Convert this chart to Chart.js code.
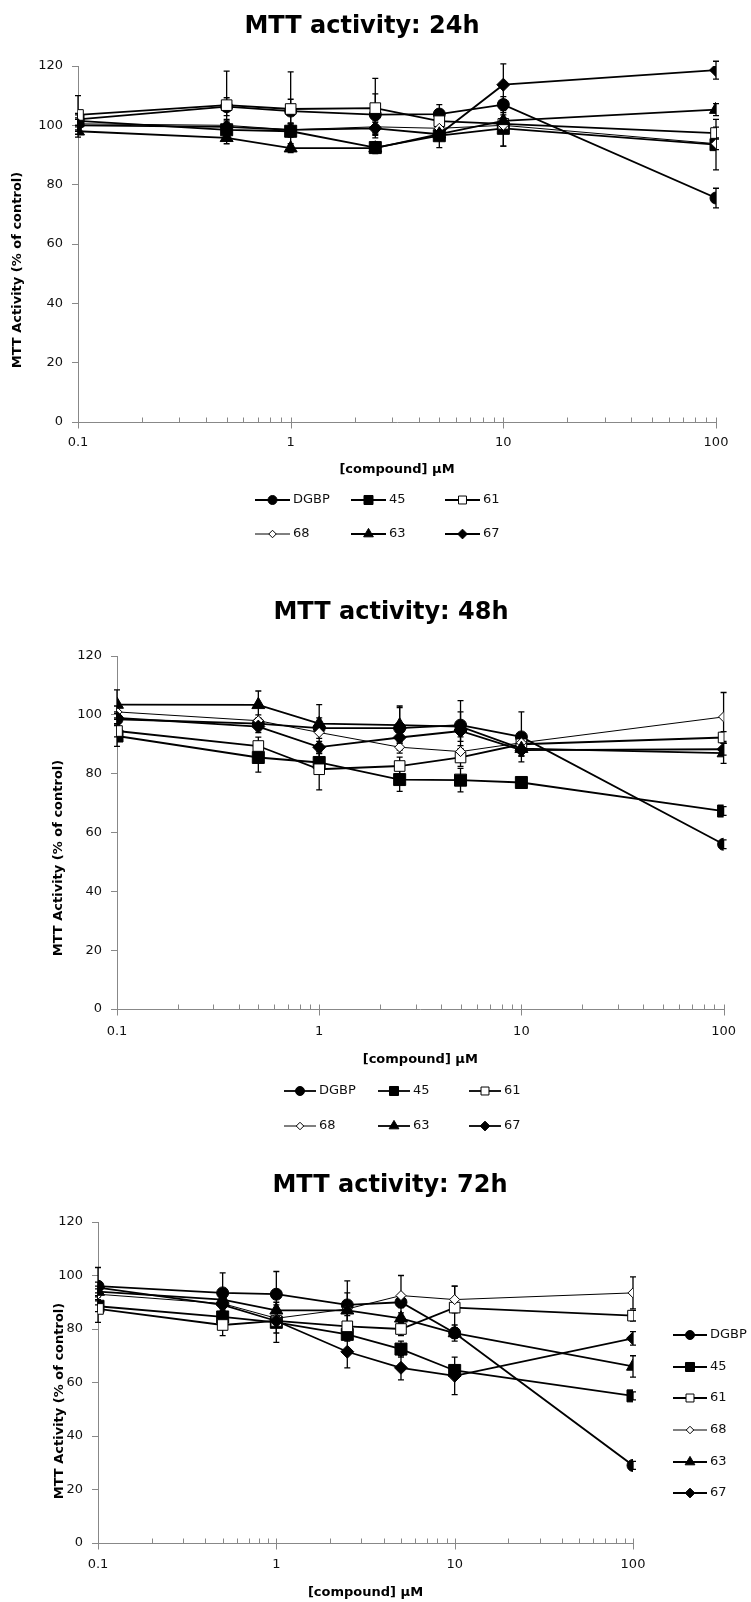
<!DOCTYPE html>
<html>
<head>
<meta charset="utf-8">
<script src="https://cdn.jsdelivr.net/npm/chart.js@4.4.1/dist/chart.umd.min.js"></script>
<style>
  body { margin: 0; background: #fff; }
  .panel { position: absolute; left: 0; width: 751px; }
</style>
</head>
<body>
<div class="panel" style="top:0px"><canvas id="chart24" width="751" height="560"></canvas></div>
<div class="panel" style="top:560px"><canvas id="chart48" width="751" height="590"></canvas></div>
<div class="panel" style="top:1150px"><canvas id="chart72" width="751" height="452"></canvas></div>
<script>
// concentrations (uM) and series names
const conc = [0.1, 0.5, 1, 2.5, 5, 10, 100]
const seriesNames = ['DGBP', '45', '61', '68', '63', '67']

// x axis ticks (log), only the decades get a label
const xTickValues = [0.1, 0.2, 0.3, 0.4, 0.5, 0.6, 0.7, 0.8, 0.9, 1, 2, 3, 4, 5, 6, 7, 8, 9, 10, 20, 30, 40, 50, 60, 70, 80, 90, 100]
const xTickLabels = ['0.1', '1', '10', '100']

// 24h
const dgbp24 = [102, 106.3, 104.8, 103.6, 103.8, 107, 75.5]
const dgbp24Err = [2, 3, 4, 7, 3.2, 2.7, 3.3]
const c45_24 = [101.5, 98.5, 98, 92.5, 96.5, 99, 93.5]
const c45_24Err = [2, 2.5, 2, 2, 4, 6, 8.5]
const c61_24 = [103.5, 106.8, 105.5, 105.8, 101.4, 100.5, 97.4]
const c61_24Err = [6.5, 11.5, 12.5, 10, 2.5, 2, 2]
const c68_24 = [100.5, 100, 98.5, 99.5, 99, 100, 93.8]
const c68_24Err = [2, 2, 2, 2, 2, 7, 2]
const c63_24 = [98, 95.8, 92.3, 92.3, 97, 101.5, 105.3]
const c63_24Err = [2, 2, 1.5, 1.5, 2, 2, 2]
const c67_24 = [100, 99.5, 98.5, 99, 97, 113.7, 118.6]
const c67_24Err = [2, 2, 2, 2, 2, 7, 3]

// 48h
const dgbp48 = [98.5, 97, 95.5, 95.5, 96.5, 92.5, 56]
const dgbp48Err = [2, 2, 8, 7.5, 8.3, 8.5, 1.5]
const c45_48 = [92.8, 85.5, 83.8, 78, 77.8, 77, 67.3]
const c45_48Err = [3.5, 5, 3, 4, 4, 1.5, 1.5]
const c61_48 = [94.5, 89.4, 81.5, 82.6, 85.5, 90, 92.3]
const c61_48Err = [2, 3, 7, 3, 3, 2, 2]
const c68_48 = [101, 98, 94, 89, 87.5, 90.5, 99.3]
const c68_48Err = [2, 2, 2, 2, 2, 2, 8.3]
const c63_48 = [103.5, 103.4, 97, 96.5, 96, 88.5, 87]
const c63_48Err = [5, 4.7, 2, 6, 5, 2.5, 3.5]
const c67_48 = [99, 96, 89, 92.3, 94.5, 88, 88.3]
const c67_48Err = [2, 2, 2, 2, 2, 2, 2]

// 72h
const dgbp72 = [96, 93.5, 93, 89, 90, 78.5, 29]
const dgbp72Err = [7, 7.5, 8.5, 9, 2, 3, 1.5]
const c45_72 = [88.5, 84.5, 82.5, 78, 72.5, 64.5, 55]
const c45_72Err = [2, 2, 7.5, 2, 3, 2, 1.5]
const c61_72 = [87.5, 81.5, 83, 81, 80, 88, 85]
const c61_72Err = [5, 4, 4.5, 5.5, 2.5, 8, 2]
const c68_72 = [93, 89.5, 84, 87.5, 92.5, 91, 93.5]
const c68_72Err = [2, 2, 2, 6, 7.5, 5, 6]
const c63_72 = [94, 91, 87, 87, 84, 78.5, 66]
const c63_72Err = [2, 2, 2, 2, 2, 2, 4]
const c67_72 = [95.5, 89, 83, 71.5, 65.5, 62.5, 76.5]
const c67_72Err = [2, 2, 2, 6, 4.5, 7, 2.5]

const FONT = "'DejaVu Sans', sans-serif"
const axisColor = '#888888'
const textColor = '#111111'

// marker look of each series (same order as seriesNames)
const markerStyles = [
  { pointStyle: 'circle', radius: 6, fill: '#000', line: 1.8 },
  { pointStyle: 'rect', radius: 8.5, fill: '#000', line: 1.8 },
  { pointStyle: 'rect', radius: 7.5, fill: '#fff', line: 1.8 },
  { pointStyle: 'rectRot', radius: 5, fill: '#fff', line: 1 },
  { pointStyle: 'triangle', radius: 7.5, fill: '#000', line: 1.8 },
  { pointStyle: 'rectRot', radius: 6.5, fill: '#000', line: 1.8 }
]

// titles, axis ticks, error bars and the legend
const decorPlugin = {
  id: 'decor',
  beforeDatasetsDraw(chart, args, opts) {
    const ctx = chart.ctx
    const x = chart.scales.x, y = chart.scales.y
    const y0 = Math.round(chart.chartArea.bottom) + 0.5
    ctx.save()
    ctx.strokeStyle = axisColor
    ctx.lineWidth = 1
    xTickValues.forEach(v => {
      const px = Math.round(x.getPixelForValue(v)) + 0.5
      const major = xTickLabels.includes(String(v))
      ctx.beginPath()
      ctx.moveTo(px, y0 - 5)
      ctx.lineTo(px, major ? y0 + 6 : y0)
      ctx.stroke()
    })
    // error bars sit under the markers
    ctx.strokeStyle = '#000'
    ctx.lineWidth = 1.3
    chart.data.datasets.forEach(ds => {
      ds.err.forEach((e, j) => {
        const v = ds.data[j].y
        const px = x.getPixelForValue(conc[j])
        const top = y.getPixelForValue(v + e), bot = y.getPixelForValue(v - e)
        ctx.beginPath()
        ctx.moveTo(px, top); ctx.lineTo(px, bot)
        ctx.moveTo(px - 3, top); ctx.lineTo(px + 3, top)
        ctx.moveTo(px - 3, bot); ctx.lineTo(px + 3, bot)
        ctx.stroke()
      })
    })
    ctx.restore()
  },
  afterDraw(chart, args, opts) {
    const ctx = chart.ctx
    const area = chart.chartArea
    ctx.save()
    ctx.fillStyle = '#000'
    ctx.textAlign = 'center'
    ctx.textBaseline = 'middle'
    ctx.font = 'bold 24px ' + FONT
    ctx.fillText(opts.title, opts.titleX, opts.titleY)
    ctx.font = 'bold 13px ' + FONT
    ctx.fillText('[compound] µM', (area.left + area.right) / 2, opts.xTitleY)
    ctx.save()
    ctx.translate(opts.yTitleX, opts.yTitleY)
    ctx.rotate(-Math.PI / 2)
    ctx.fillText('MTT Activity (% of control)', 0, 0)
    ctx.restore()

    // legend: line with the marker in the middle, then the name
    const leg = opts.legend
    chart.data.datasets.forEach((ds, i) => {
      const lx = leg.x[i], ly = leg.y[i]
      ctx.strokeStyle = '#000'
      ctx.lineWidth = ds.borderWidth
      ctx.beginPath()
      ctx.moveTo(lx, ly); ctx.lineTo(lx + leg.len, ly)
      ctx.stroke()
      ctx.fillStyle = ds.pointBackgroundColor
      ctx.lineWidth = 1
      Chart.helpers.drawPoint(ctx, { pointStyle: ds.pointStyle, radius: ds.pointRadius * 0.75, rotation: 0, borderWidth: 1 }, lx + leg.len / 2, ly)
      ctx.fillStyle = textColor
      ctx.font = '13px ' + FONT
      ctx.textAlign = 'left'
      ctx.fillText(ds.label, lx + leg.len + 3, ly)
    })
    ctx.restore()
  }
}

function makeDatasets(values, errors) {
  return seriesNames.map((name, i) => {
    const st = markerStyles[i]
    return {
      label: name,
      data: conc.map((c, j) => ({ x: c, y: values[i][j] })),
      err: errors[i],
      borderColor: '#000',
      borderWidth: st.line,
      backgroundColor: st.fill,
      pointStyle: st.pointStyle,
      pointRadius: st.radius,
      pointBackgroundColor: st.fill,
      pointBorderColor: '#000',
      pointBorderWidth: 1,
      tension: 0,
      order: 5 - i
    }
  })
}

function makeChart(id, values, errors, box, decor) {
  const canvas = document.getElementById(id)
  const H = canvas.height
  return new Chart(canvas, {
    type: 'line',
    data: { datasets: makeDatasets(values, errors) },
    options: {
      responsive: false,
      animation: false,
      events: [],
      layout: { padding: { left: 0, top: box.top, right: canvas.width - box.right, bottom: 0 } },
      scales: {
        x: {
          type: 'logarithmic',
          min: 0.1,
          max: 100,
          afterBuildTicks: s => { s.ticks = xTickValues.map(v => ({ value: v })) },
          afterFit: s => { s.height = H - box.bottom },
          ticks: {
            autoSkip: false,
            maxRotation: 0,
            padding: box.xPad,
            color: textColor,
            font: { family: FONT, size: 13 },
            callback: v => xTickLabels.includes(String(v)) ? String(v) : ''
          },
          grid: { display: true, drawOnChartArea: false, drawTicks: false },
          border: { display: true, color: axisColor, width: 1 }
        },
        y: {
          min: 0,
          max: 120,
          afterFit: s => { s.width = box.left },
          ticks: { stepSize: 20, padding: 9, color: textColor, font: { family: FONT, size: 13 } },
          grid: { drawOnChartArea: false, drawTicks: true, tickLength: 6, color: axisColor },
          border: { color: axisColor, width: 1 }
        }
      },
      plugins: {
        legend: { display: false },
        tooltip: { enabled: false },
        decor: decor
      }
    },
    plugins: [decorPlugin]
  })
}

makeChart('chart24',
  [dgbp24, c45_24, c61_24, c68_24, c63_24, c67_24],
  [dgbp24Err, c45_24Err, c61_24Err, c68_24Err, c63_24Err, c67_24Err],
  { left: 78, right: 716, top: 66, bottom: 422, xPad: 13 },
  { title: 'MTT activity: 24h', titleX: 362, titleY: 27, xTitleY: 470, yTitleX: 18, yTitleY: 270,
    legend: { len: 35, x: [255, 351, 445, 255, 351, 445], y: [500, 500, 500, 534, 534, 534] } })

makeChart('chart48',
  [dgbp48, c45_48, c61_48, c68_48, c63_48, c67_48],
  [dgbp48Err, c45_48Err, c61_48Err, c68_48Err, c63_48Err, c67_48Err],
  { left: 117, right: 730, top: 96, bottom: 449, xPad: 15 },
  { title: 'MTT activity: 48h', titleX: 391, titleY: 53, xTitleY: 500, yTitleX: 59, yTitleY: 298,
    legend: { len: 32, x: [284, 378, 469, 284, 378, 469], y: [531, 531, 531, 566, 566, 566] } })

makeChart('chart72',
  [dgbp72, c45_72, c61_72, c68_72, c63_72, c67_72],
  [dgbp72Err, c45_72Err, c61_72Err, c68_72Err, c63_72Err, c67_72Err],
  { left: 98, right: 633, top: 72, bottom: 393, xPad: 14 },
  { title: 'MTT activity: 72h', titleX: 390, titleY: 36, xTitleY: 443, yTitleX: 60, yTitleY: 251,
    legend: { len: 34, x: [673, 673, 673, 673, 673, 673], y: [185, 217, 248, 280, 312, 343] } })
</script>
</body>
</html>
